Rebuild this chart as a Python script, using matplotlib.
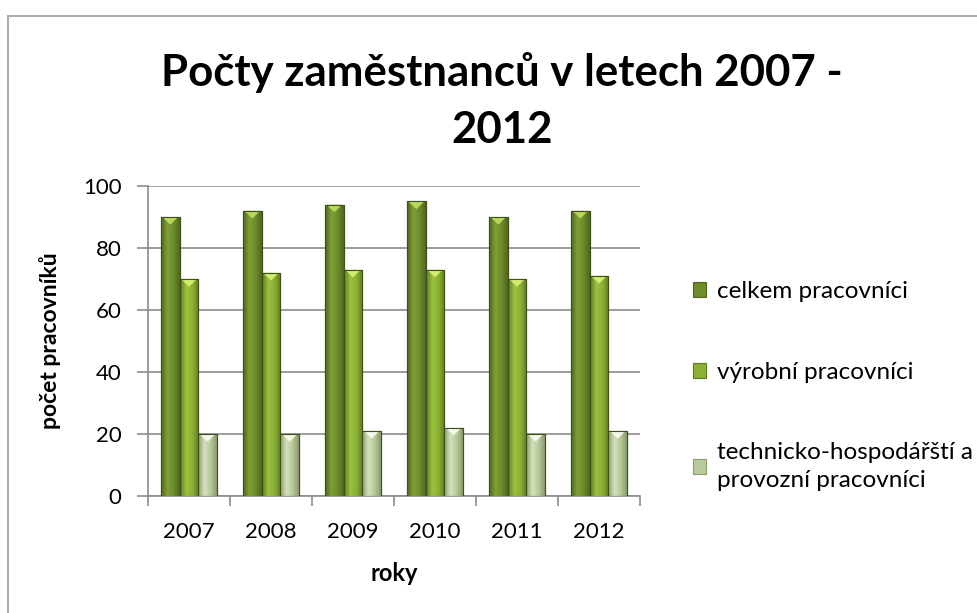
import numpy as np
import matplotlib.pyplot as plt
from matplotlib.colors import LinearSegmentedColormap
from matplotlib.patches import Polygon
from matplotlib.lines import Line2D

plt.rcParams["font.family"] = ["Lato", "DejaVu Sans"]

years = ["2007", "2008", "2009", "2010", "2011", "2012"]
celkem = [90, 92, 94, 95, 90, 92]
vyrobni = [70, 72, 73, 73, 70, 71]
thp = [20, 20, 21, 22, 20, 21]
series_names = [
    "celkem pracovníci",
    "výrobní pracovníci",
    "technicko-hospodářští a\nprovozní pracovníci",
]

# (edge dark, center light, face, top highlight)
styles = [
    ("#4f6620", "#7f9f35", "#6e8c2c", "#b9d85a"),
    ("#5f7d22", "#9cc23e", "#8bb035", "#d2ec6e"),
    ("#8a9c6c", "#d4e2bc", "#b8c99c", "#f4f8e8"),
]

fig = plt.figure(figsize=(9.78, 6.13), dpi=100)
ax = fig.add_axes([0.1513, 0.1909, 0.5031, 0.5057])

x = np.arange(len(years))
width = 0.228
handles = []
for k, (vals, name, st) in enumerate(zip([celkem, vyrobni, thp], series_names, styles)):
    bars = ax.bar(x + (k - 1) * width, vals, width, color=st[2],
                  edgecolor="#3e4f1a", linewidth=0.8, zorder=3, label=name)
    cmap = LinearSegmentedColormap.from_list("g%d" % k, [st[0], st[1], st[2], st[0]])
    grad = np.linspace(0, 1, 64).reshape(1, -1)
    for b in bars:
        x0, w, h = b.get_x(), b.get_width(), b.get_height()
        im = ax.imshow(grad, cmap=cmap, aspect="auto", extent=[x0, x0 + w, 0, h],
                       zorder=3.5, interpolation="bicubic")
        im.set_clip_path(b)
        tri = Polygon([[x0 + w * 0.08, h], [x0 + w * 0.92, h], [x0 + w / 2, h - 2.5]],
                      closed=True, facecolor=st[3], edgecolor="none", zorder=4)
        ax.add_patch(tri)
        ax.add_patch(plt.Rectangle((x0, 0), w, h, fill=False,
                                   edgecolor="#3e4f1a", linewidth=0.8, zorder=4.5))
    handles.append(plt.Rectangle((0, 0), 1, 1, facecolor=st[2], edgecolor=st[0], linewidth=0.8))

ax.set_xlim(-0.5, len(years) - 0.5)
ax.set_ylim(0, 100)
ax.set_yticks(range(0, 101, 20))
ax.set_xticks(x)
ax.set_xticklabels(years)
ax.set_xticks(np.arange(-0.5, len(years), 1), minor=True)
ax.tick_params(axis="x", which="major", length=0, pad=19, labelsize=16)
ax.tick_params(axis="x", which="minor", length=7, width=1.2, color="#8c8c8c", direction="out")
ax.tick_params(axis="y", length=8, width=1.2, color="#8c8c8c", pad=11, labelsize=16)
ax.grid(axis="y", color="#8c8c8c", linewidth=1.2, zorder=0)
ax.set_axisbelow(True)
for side in ["top", "right"]:
    ax.spines[side].set_visible(False)
for side in ["left", "bottom"]:
    ax.spines[side].set_color("#8c8c8c")
    ax.spines[side].set_linewidth(1.2)

ax.set_xlabel("roky", fontsize=17, fontweight="bold", labelpad=14)
ax.set_ylabel("počet pracovníků", fontsize=16.5, fontweight="bold", labelpad=16)

fig.suptitle("Počty zaměstnanců v letech 2007 -\n2012", x=0.513, y=0.915,
             fontsize=31.5, fontweight="bold", linespacing=1.5)

leg = ax.legend(handles, series_names, loc="center left", bbox_to_anchor=(0.686, 0.37),
                bbox_transform=fig.transFigure, frameon=False, fontsize=17.5,
                handlelength=0.55, handleheight=0.55, handletextpad=0.45, labelspacing=2.45)
for t in leg.get_texts():
    t.set_linespacing(1.4)

# chart area border (left and top edges visible)
fig.add_artist(Line2D([0.0085, 0.0085], [0, 0.974], color="#b0b0b0", linewidth=1.5))
fig.add_artist(Line2D([0.0085, 1.0], [0.974, 0.974], color="#b0b0b0", linewidth=1.5))

fig.savefig("out.png", dpi=100)
